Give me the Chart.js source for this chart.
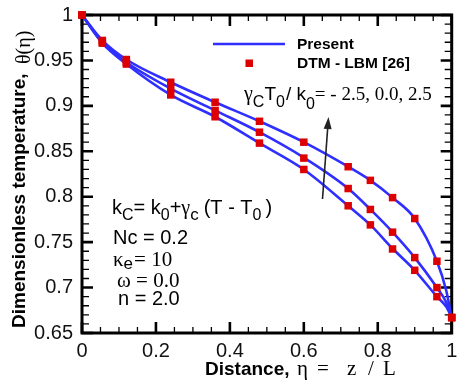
<!DOCTYPE html>
<html>
<head>
<meta charset="utf-8">
<script src="https://cdn.jsdelivr.net/npm/chart.js@4/dist/chart.umd.min.js"></script>
<style>
  html, body { margin: 0; padding: 0; background: #fff; }
  #wrap { width: 457px; height: 380px; }
</style>
</head>
<body>
<div id="wrap"><canvas id="c" width="457" height="380"></canvas></div>
<script>
// ---- data ----
const etaPoints = [0, 0.055, 0.12, 0.24, 0.36, 0.48, 0.6, 0.72, 0.78, 0.84, 0.9, 0.96, 1.0];
const dtmNeg  = [1.0, 0.969, 0.946, 0.912, 0.888, 0.859, 0.830, 0.790, 0.769, 0.7425, 0.719, 0.690, 0.667];
const dtmZero = [1.0, 0.970, 0.948, 0.919, 0.895, 0.871, 0.8425, 0.809, 0.786, 0.761, 0.733, 0.700, 0.667];
const dtmPos  = [1.0, 0.972, 0.951, 0.926, 0.904, 0.883, 0.860, 0.833, 0.818, 0.799, 0.776, 0.729, 0.667];

const etaCurve    = [0, 0.055, 0.12, 0.24, 0.36, 0.48, 0.6, 0.72, 0.78, 0.84, 0.9, 0.96, 0.985, 1.0];
const presentNeg  = [1.0, 0.969, 0.946, 0.912, 0.888, 0.859, 0.830, 0.790, 0.769, 0.743, 0.719, 0.690, 0.679, 0.667];
const presentZero = [1.0, 0.970, 0.948, 0.919, 0.895, 0.871, 0.843, 0.809, 0.786, 0.761, 0.733, 0.700, 0.684, 0.667];
const presentPos  = [1.0, 0.972, 0.951, 0.926, 0.904, 0.883, 0.860, 0.833, 0.818, 0.799, 0.776, 0.729, 0.697, 0.667];

const xTicks = [0, 0.2, 0.4, 0.6, 0.8, 1];
const xTickLabels = ['0', '0.2', '0.4', '0.6', '0.8', '1'];
const yTicks = [0.65, 0.7, 0.75, 0.8, 0.85, 0.9, 0.95, 1];
const yTickLabels = ['0.65', '0.7', '0.75', '0.8', '0.85', '0.9', '0.95', '1'];

const legendLabels = ['Present', 'DTM - LBM [26]'];

// ---- styles ----
const BLUE = '#2f2fff';
const RED = '#dd0000';
const SANS = '"Liberation Sans", Arial, sans-serif';
const SERIF = '"Liberation Serif", "Times New Roman", serif';

function pts(xs, ys) { return xs.map((x, i) => ({ x: x, y: ys[i] })); }

function curveDs(ys) {
  return { type: 'line', data: pts(etaCurve, ys), borderColor: BLUE, borderWidth: 2.6,
    pointRadius: 0, fill: false, cubicInterpolationMode: 'monotone', order: 2 };
}
function markDs(ys) {
  return { type: 'line', data: pts(etaPoints, ys), showLine: false, pointStyle: 'rect',
    pointRadius: 5.3, backgroundColor: RED, borderColor: RED, borderWidth: 0, order: 1, clip: false };
}

function runs(ctx, x, y, list) {
  list.forEach(r => {
    ctx.font = r.f;
    ctx.fillText(r.t, x, y + (r.dy || 0));
    x += ctx.measureText(r.t).width + (r.g || 0);
  });
}

function noPad(s) { s.paddingLeft = 0; s.paddingRight = 0; s.paddingTop = 0; s.paddingBottom = 0; }

const decor = {
  id: 'decor',
  beforeDatasetsDraw(chart) {
    const { ctx, chartArea: a, scales: { x, y } } = chart;
    ctx.save();
    ctx.strokeStyle = '#000';
    for (let i = 0; i <= 20; i++) {
      const px = x.getPixelForValue(i * 0.05);
      const len = (i % 4 === 0) ? 11 : 6;
      ctx.lineWidth = (i % 4 === 0) ? 2.6 : 1.3;
      ctx.beginPath();
      ctx.moveTo(px, a.bottom); ctx.lineTo(px, a.bottom - len);
      ctx.moveTo(px, a.top); ctx.lineTo(px, a.top + len);
      ctx.stroke();
    }
    for (let i = 0; i <= 35; i++) {
      const py = y.getPixelForValue(0.65 + i * 0.01);
      const len = (i % 5 === 0) ? 11 : 7;
      ctx.lineWidth = (i % 5 === 0) ? 2.6 : 1.3;
      ctx.beginPath();
      ctx.moveTo(a.left, py); ctx.lineTo(a.left + len, py);
      ctx.moveTo(a.right, py); ctx.lineTo(a.right - len, py);
      ctx.stroke();
    }
    ctx.lineWidth = 3;
    ctx.strokeRect(a.left, a.top, a.right - a.left, a.bottom - a.top);
    ctx.restore();
  },
  afterDraw(chart) {
    const { ctx } = chart;
    ctx.save();
    ctx.fillStyle = '#000';
    ctx.textAlign = 'left';
    ctx.textBaseline = 'alphabetic';

    // x axis title
    ctx.font = 'bold 19px ' + SANS;
    ctx.fillText('Distance,', 205, 375);
    ctx.font = '21px ' + SERIF;
    ctx.fillText('\u03B7', 297, 375);
    ctx.fillText('=', 317, 375);
    ctx.fillText('z', 347, 375);
    ctx.fillText('/', 368, 375);
    ctx.fillText('L', 383, 375);

    // y axis title
    ctx.save();
    ctx.translate(25, 328);
    ctx.rotate(-Math.PI / 2);
    ctx.font = 'bold 19px ' + SANS;
    ctx.fillText('Dimensionless temperature,', 0, 0);
    ctx.font = '20px ' + SERIF;
    ctx.fillText('\u03B8(\u03B7)', 264, 5);
    ctx.restore();

    // legend
    ctx.strokeStyle = BLUE; ctx.lineWidth = 2.6;
    ctx.beginPath(); ctx.moveTo(213, 44); ctx.lineTo(285, 44); ctx.stroke();
    ctx.fillStyle = RED;
    ctx.fillRect(245.5, 59.5, 7.5, 7.5);
    ctx.fillStyle = '#000';
    ctx.font = 'bold 15.5px ' + SANS;
    ctx.textBaseline = 'middle';
    ctx.fillText(legendLabels[0], 297, 45);
    ctx.fillText(legendLabels[1], 297, 64);
    ctx.textBaseline = 'alphabetic';

    // parameter annotation
    runs(ctx, 244, 100, [
      { t: '\u03B3', f: '20px ' + SERIF },
      { t: 'C', f: '16px ' + SANS, dy: 7 },
      { t: 'T', f: '19px ' + SANS },
      { t: '0', f: '16px ' + SANS, dy: 7, g: 1 },
      { t: '/ k', f: '19px ' + SANS },
      { t: '0', f: '16px ' + SANS, dy: 9 },
      { t: '= - 2.5, 0.0, 2.5', f: '19px ' + SERIF }
    ]);

    // arrow
    ctx.strokeStyle = '#222'; ctx.fillStyle = '#222'; ctx.lineWidth = 1.6;
    const x0 = 322.5, y0 = 199, x1 = 328.5, y1 = 117;
    const ang = Math.atan2(y1 - y0, x1 - x0);
    ctx.beginPath(); ctx.moveTo(x0, y0);
    ctx.lineTo(x1 - 9 * Math.cos(ang), y1 - 9 * Math.sin(ang)); ctx.stroke();
    ctx.beginPath();
    ctx.moveTo(x1, y1);
    ctx.lineTo(x1 - 12 * Math.cos(ang) + 4 * Math.sin(ang), y1 - 12 * Math.sin(ang) - 4 * Math.cos(ang));
    ctx.lineTo(x1 - 12 * Math.cos(ang) - 4 * Math.sin(ang), y1 - 12 * Math.sin(ang) + 4 * Math.cos(ang));
    ctx.closePath(); ctx.fill();

    // left annotation block
    ctx.fillStyle = '#000';
    runs(ctx, 112, 214, [
      { t: 'k', f: '20px ' + SANS },
      { t: 'C', f: '16px ' + SANS, dy: 6 },
      { t: '= k', f: '20px ' + SANS },
      { t: '0', f: '16px ' + SANS, dy: 6 },
      { t: '+', f: '20px ' + SANS },
      { t: '\u03B3', f: '20px ' + SERIF },
      { t: 'c', f: '17px ' + SANS, dy: 6, g: 5 },
      { t: '(T - T', f: '20px ' + SANS },
      { t: '0', f: '16px ' + SANS, dy: 6, g: 4 },
      { t: ')', f: '20px ' + SANS }
    ]);
    ctx.font = '20px ' + SANS;
    ctx.fillText('Nc = 0.2', 113, 244);
    runs(ctx, 113, 266, [
      { t: '\u03BA', f: '21px ' + SERIF },
      { t: 'e', f: '17px ' + SANS, dy: 3, g: 1 },
      { t: '= 10', f: '21px ' + SERIF }
    ]);
    ctx.font = '21px ' + SERIF;
    ctx.fillText('\u03C9 = 0.0', 117, 287);
    ctx.font = '20px ' + SANS;
    ctx.fillText('n = 2.0', 118, 305);
    ctx.restore();
  }
};

new Chart(document.getElementById('c'), {
  type: 'line',
  data: {
    datasets: [
      markDs(dtmNeg), markDs(dtmZero), markDs(dtmPos),
      curveDs(presentNeg), curveDs(presentZero), curveDs(presentPos)
    ]
  },
  options: {
    responsive: false,
    animation: false,
    devicePixelRatio: 1,
    layout: { padding: { top: 15, right: 2, left: 0, bottom: 0 } },
    plugins: { legend: { display: false }, tooltip: { enabled: false } },
    scales: {
      x: {
        type: 'linear', min: 0, max: 1,
        grid: { display: false, drawTicks: false },
        border: { display: false },
        afterBuildTicks: s => { s.ticks = xTicks.map(v => ({ value: v })); },
        afterFit: s => { s.height = 47; noPad(s); },
        ticks: {
          autoSkip: false, maxRotation: 0, padding: 6, color: '#111',
          font: { family: SANS, size: 20 },
          callback: (v, i) => xTickLabels[i]
        }
      },
      y: {
        type: 'linear', min: 0.65, max: 1,
        grid: { display: false, drawTicks: false },
        border: { display: false },
        afterBuildTicks: s => { s.ticks = yTicks.map(v => ({ value: v })); },
        afterFit: s => { s.width = 82; noPad(s); },
        ticks: {
          autoSkip: false, padding: 9, color: '#111',
          font: { family: SANS, size: 20 },
          callback: (v, i) => yTickLabels[i]
        }
      }
    }
  },
  plugins: [decor]
});
</script>
</body>
</html>
